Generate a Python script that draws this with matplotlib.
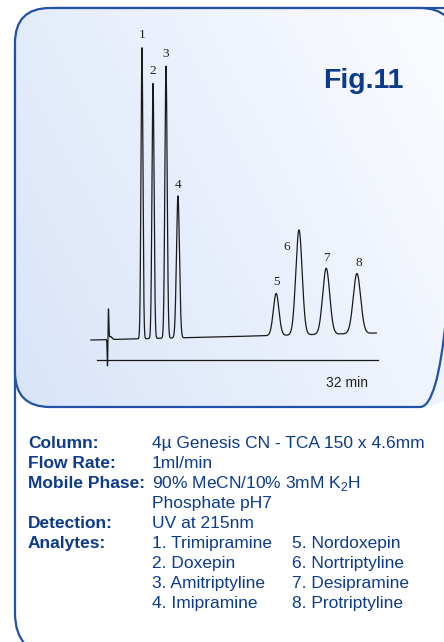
import numpy as np
import matplotlib
matplotlib.use("Agg")
import matplotlib.pyplot as plt
from matplotlib.patches import FancyBboxPatch

plt.rcParams['font.family'] = ['Liberation Sans', 'DejaVu Sans']
plt.rcParams['mathtext.fontset'] = 'custom'
plt.rcParams['mathtext.rm'] = 'Liberation Sans'

# chromatogram data (time in min, response in arbitrary units)
peak_ids = ["1", "2", "3", "4", "5", "6", "7", "8"]
peak_times = [5.12, 6.38, 7.86, 9.22, 20.4, 23.0, 26.1, 29.6]
peak_heights = [291, 255, 272, 142, 42, 105, 66, 60]
peak_widths = [0.11, 0.12, 0.13, 0.17, 0.32, 0.36, 0.40, 0.42]
label_shift = [0, 0, 0, 0, 0, -1.35, 0, 0.2]
label_gap = [10, 9, 9, 8, 8, -20, 7, 7]

# injection disturbance: time, height, width
inj_times = [1.20, 1.30, 1.55]
inj_heights = [-30, 31, 3]
inj_widths = [0.04, 0.05, 0.15]

baseline_start, baseline_end = 20, 27
t_start, t_end = -0.7, 31.8
run_time = 32

conditions = [
    ("Column:", "4\u00b5 Genesis CN - TCA 150 x 4.6mm"),
    ("Flow Rate:", "1ml/min"),
    ("Mobile Phase:", "90% MeCN/10% 3mM K$_2$H"),
    ("", "Phosphate pH7"),
    ("Detection:", "UV at 215nm"),
]
analytes_left = ["1. Trimipramine", "2. Doxepin", "3. Amitriptyline", "4. Imipramine"]
analytes_right = ["5. Nordoxepin", "6. Nortriptyline", "7. Desipramine", "8. Protriptyline"]

navy = "#0c3a8c"
border = "#2151a8"
fs = 12.5

W, H = 444, 642
fig = plt.figure(figsize=(W / 100, H / 100), dpi=100)

# background / frames in pixel coordinates
bg = fig.add_axes([0, 0, 1, 1])
bg.set_xlim(0, W)
bg.set_ylim(H, 0)
bg.axis("off")

outer = FancyBboxPatch((15, 8), 470, 647, boxstyle="round,pad=0,rounding_size=42",
                       facecolor="white", edgecolor=border, lw=1.6, zorder=1)
bg.add_patch(outer)

panel = FancyBboxPatch((15, 8), 440, 399, boxstyle="round,pad=0,rounding_size=35",
                       facecolor="none", edgecolor=border, lw=1.6, zorder=3)
bg.add_patch(panel)

gx, gy = np.meshgrid(np.linspace(0, 1, 200), np.linspace(0, 1, 200))
g = np.clip(0.75 * gx + 0.35 * (1 - gy), 0, 1)
c0 = np.array([0.85, 0.895, 0.975])
c1 = np.array([0.975, 0.982, 0.998])
img = c0[None, None, :] * (1 - g[..., None]) + c1[None, None, :] * g[..., None]
im = bg.imshow(img, extent=(15, 455, 407, 8), origin="upper", zorder=2, aspect="auto")
im.set_clip_path(panel)

# chromatogram axes
px_per_min = 281 / run_time
ax = fig.add_axes([80 / W, (H - 375) / H, 320 / W, 355 / H])
ax.set_xlim((80 - 97) / px_per_min, (400 - 97) / px_per_min)
ax.set_ylim(-15, 340)
ax.axis("off")
ax.patch.set_alpha(0)

t = np.linspace(t_start, t_end, 12000)
y = baseline_start + (baseline_end - baseline_start) * (t - t_start) / (t_end - t_start)
for tc, h, w in zip(peak_times + inj_times, peak_heights + inj_heights, peak_widths + inj_widths):
    y = y + h * np.exp(-0.5 * ((t - tc) / w) ** 2)
ax.plot(t, y, color="#1a1a1a", lw=0.9)
ax.plot([0, run_time], [0, 0], color="#1a1a1a", lw=0.9)

for pid, tc, h, dx, gap in zip(peak_ids, peak_times, peak_heights, label_shift, label_gap):
    base = baseline_start + (baseline_end - baseline_start) * (tc - t_start) / (t_end - t_start)
    ax.text(tc + dx, base + h + gap, pid, ha="center", va="baseline",
            family="Liberation Serif", fontsize=9.5, color="#222222")

bg.text(403, 88, "Fig.11", ha="right", va="baseline", fontsize=20.5,
        fontweight="bold", color=navy, zorder=5)
bg.text(347, 387, "32 min", ha="center", va="baseline", fontsize=10,
        color="#222222", zorder=5)

# conditions text
row0, dy = 448, 20
for i, (lab, val) in enumerate(conditions):
    yy = row0 + i * dy
    if lab:
        bg.text(28, yy, lab, fontsize=fs, fontweight="bold", color=navy, va="baseline", zorder=5)
    bg.text(152, yy, val, fontsize=fs, color=navy, va="baseline", zorder=5)

yy = row0 + len(conditions) * dy
bg.text(28, yy, "Analytes:", fontsize=fs, fontweight="bold", color=navy, va="baseline", zorder=5)
for i, (a, b) in enumerate(zip(analytes_left, analytes_right)):
    bg.text(152, yy + i * dy, a, fontsize=fs, color=navy, va="baseline", zorder=5)
    bg.text(292, yy + i * dy, b, fontsize=fs, color=navy, va="baseline", zorder=5)

fig.savefig("out.png", dpi=100)
